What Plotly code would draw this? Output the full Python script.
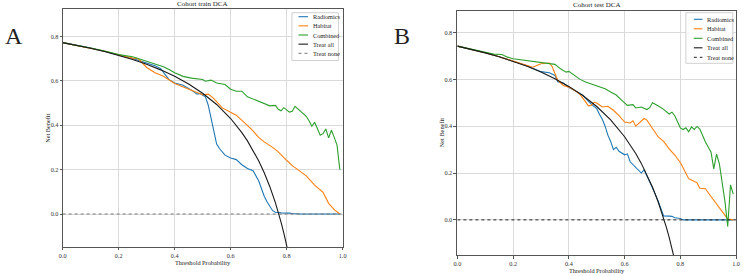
import plotly.graph_objects as go

# ---------------- data ----------------
series_names = ["Radiomics", "Habitat", "Combined", "Treat all", "Treat none"]

# Cohort train
train_rad_t = [0, 0.05, 0.1, 0.15, 0.2, 0.25, 0.3, 0.33, 0.35, 0.37, 0.38, 0.4, 0.43, 0.46, 0.48, 0.49, 0.51, 0.52, 0.53, 0.54, 0.55, 0.56, 0.58, 0.6, 0.62, 0.64, 0.66, 0.68, 0.69, 0.7, 0.71, 0.72, 0.73, 0.74, 0.75, 0.76, 0.78, 0.81, 0.82, 0.85, 0.99]
train_rad_nb = [0.772, 0.760, 0.747, 0.732, 0.716, 0.700, 0.680, 0.668, 0.655, 0.625, 0.605, 0.590, 0.580, 0.558, 0.540, 0.543, 0.528, 0.490, 0.430, 0.360, 0.315, 0.295, 0.265, 0.252, 0.245, 0.222, 0.205, 0.195, 0.175, 0.150, 0.115, 0.080, 0.055, 0.035, 0.015, 0.008, 0.005, 0.004, 0.002, 0.0, 0.0]

train_hab_t = [0, 0.05, 0.1, 0.15, 0.2, 0.25, 0.27, 0.3, 0.33, 0.36, 0.4, 0.43, 0.46, 0.5, 0.52, 0.54, 0.57, 0.6, 0.62, 0.65, 0.68, 0.7, 0.72, 0.75, 0.77, 0.8, 0.82, 0.84, 0.87, 0.9, 0.93, 0.95, 0.97, 0.99]
train_hab_nb = [0.772, 0.760, 0.747, 0.733, 0.717, 0.702, 0.700, 0.660, 0.636, 0.620, 0.588, 0.573, 0.558, 0.537, 0.540, 0.520, 0.478, 0.459, 0.445, 0.410, 0.374, 0.345, 0.325, 0.300, 0.280, 0.242, 0.218, 0.200, 0.172, 0.130, 0.098, 0.048, 0.020, 0.0]

train_comb_t = [0, 0.05, 0.1, 0.15, 0.2, 0.25, 0.27, 0.3, 0.34, 0.36, 0.38, 0.4, 0.43, 0.46, 0.5, 0.51, 0.53, 0.55, 0.58, 0.6, 0.62, 0.64, 0.66, 0.68, 0.7, 0.72, 0.74, 0.76, 0.77, 0.78, 0.79, 0.81, 0.82, 0.83, 0.85, 0.87, 0.88, 0.89, 0.9, 0.92, 0.93, 0.94, 0.95, 0.96, 0.97, 0.98, 0.99]
train_comb_nb = [0.772, 0.761, 0.748, 0.734, 0.718, 0.708, 0.700, 0.686, 0.670, 0.663, 0.651, 0.636, 0.620, 0.612, 0.606, 0.598, 0.603, 0.590, 0.583, 0.562, 0.553, 0.553, 0.528, 0.518, 0.508, 0.496, 0.487, 0.489, 0.472, 0.465, 0.479, 0.459, 0.463, 0.485, 0.462, 0.440, 0.420, 0.395, 0.413, 0.355, 0.362, 0.383, 0.343, 0.377, 0.345, 0.310, 0.200]

train_all_t = [0, 0.05, 0.1, 0.15, 0.2, 0.25, 0.3, 0.35, 0.4, 0.45, 0.5, 0.55, 0.6, 0.62, 0.64, 0.66, 0.68, 0.7, 0.72, 0.74, 0.76, 0.77, 0.78, 0.79, 0.8, 0.805]
train_all_nb = [0.772, 0.760, 0.7467, 0.7318, 0.715, 0.696, 0.6743, 0.6492, 0.620, 0.5855, 0.544, 0.4933, 0.430, 0.400, 0.3667, 0.3294, 0.2875, 0.240, 0.1857, 0.1231, 0.050, 0.0087, -0.0364, -0.0857, -0.140, -0.1692]

# Cohort test
test_rad_t = [0, 0.05, 0.1, 0.15, 0.2, 0.25, 0.3, 0.33, 0.35, 0.36, 0.38, 0.4, 0.42, 0.45, 0.48, 0.5, 0.51, 0.52, 0.53, 0.54, 0.55, 0.56, 0.57, 0.58, 0.6, 0.61, 0.62, 0.63, 0.65, 0.66, 0.67, 0.68, 0.7, 0.71, 0.72, 0.73, 0.74, 0.76, 0.77, 0.78, 0.8, 0.81, 0.9, 0.99]
test_rad_nb = [0.742, 0.729, 0.714, 0.697, 0.679, 0.658, 0.633, 0.628, 0.617, 0.590, 0.584, 0.565, 0.553, 0.532, 0.494, 0.475, 0.450, 0.430, 0.400, 0.362, 0.335, 0.300, 0.310, 0.293, 0.278, 0.282, 0.248, 0.235, 0.210, 0.200, 0.214, 0.188, 0.142, 0.110, 0.082, 0.050, 0.017, 0.016, 0.015, 0.009, 0.006, 0.0, 0.0, 0.0]

test_hab_t = [0, 0.05, 0.1, 0.15, 0.2, 0.25, 0.27, 0.3, 0.33, 0.34, 0.35, 0.36, 0.38, 0.4, 0.42, 0.44, 0.46, 0.47, 0.48, 0.49, 0.5, 0.52, 0.54, 0.56, 0.58, 0.6, 0.62, 0.63, 0.64, 0.66, 0.67, 0.68, 0.7, 0.72, 0.74, 0.76, 0.78, 0.8, 0.82, 0.83, 0.84, 0.86, 0.87, 0.89, 0.91, 0.93, 0.95, 0.97, 0.99]
test_hab_nb = [0.742, 0.729, 0.714, 0.697, 0.679, 0.658, 0.652, 0.667, 0.670, 0.655, 0.624, 0.596, 0.574, 0.567, 0.553, 0.536, 0.504, 0.487, 0.489, 0.502, 0.499, 0.482, 0.485, 0.468, 0.445, 0.418, 0.414, 0.423, 0.400, 0.425, 0.433, 0.426, 0.388, 0.355, 0.335, 0.303, 0.277, 0.245, 0.199, 0.176, 0.170, 0.158, 0.135, 0.133, 0.100, 0.068, 0.032, 0.004, 0.0]

test_comb_t = [0, 0.05, 0.1, 0.13, 0.16, 0.18, 0.2, 0.25, 0.3, 0.33, 0.35, 0.37, 0.39, 0.4, 0.42, 0.44, 0.46, 0.48, 0.5, 0.52, 0.53, 0.55, 0.57, 0.59, 0.61, 0.63, 0.64, 0.66, 0.68, 0.69, 0.7, 0.72, 0.74, 0.76, 0.77, 0.78, 0.8, 0.81, 0.82, 0.83, 0.84, 0.85, 0.86, 0.87, 0.89, 0.91, 0.92, 0.93, 0.94, 0.96, 0.97, 0.98, 0.99]
test_comb_nb = [0.742, 0.729, 0.714, 0.708, 0.706, 0.695, 0.688, 0.681, 0.674, 0.669, 0.664, 0.645, 0.631, 0.634, 0.617, 0.600, 0.589, 0.580, 0.572, 0.563, 0.560, 0.546, 0.533, 0.510, 0.489, 0.492, 0.478, 0.482, 0.471, 0.479, 0.500, 0.487, 0.472, 0.452, 0.460, 0.445, 0.393, 0.386, 0.393, 0.376, 0.397, 0.386, 0.399, 0.388, 0.333, 0.290, 0.218, 0.281, 0.240, 0.080, -0.028, 0.149, 0.110]

test_all_t = [0, 0.05, 0.1, 0.15, 0.2, 0.25, 0.3, 0.35, 0.4, 0.45, 0.5, 0.55, 0.6, 0.62, 0.64, 0.66, 0.68, 0.7, 0.72, 0.73, 0.74, 0.75, 0.76, 0.77, 0.775, 0.78]
test_all_nb = [0.742, 0.7284, 0.7133, 0.6965, 0.6775, 0.656, 0.6314, 0.6031, 0.570, 0.5309, 0.484, 0.4267, 0.355, 0.3211, 0.2833, 0.2412, 0.1938, 0.140, 0.0786, 0.0444, 0.0077, -0.032, -0.075, -0.1217, -0.1467, -0.1727]

none_t = [0, 1]
none_nb = [0, 0]

x_ticks = [0, 0.2, 0.4, 0.6, 0.8, 1.0]
x_ticktext = ["0.0", "0.2", "0.4", "0.6", "0.8", "1.0"]
y_ticks = [0, 0.2, 0.4, 0.6, 0.8]
y_ticktext = ["0.0", "0.2", "0.4", "0.6", "0.8"]

# ---------------- style ----------------
W, H = 746, 276
FONT = "Liberation Serif"
C_RAD, C_HAB, C_COMB, C_ALL = "#1f77b4", "#ff7f0e", "#2ca02c", "#1a1a1a"


def px(x):
    return x / W


def py(y):
    return 1 - y / H


fig = go.Figure()

panels = [
    dict(xa="x", ya="y", data=[(train_rad_t, train_rad_nb), (train_hab_t, train_hab_nb),
                               (train_comb_t, train_comb_nb), (train_all_t, train_all_nb)],
         none_color="#777777"),
    dict(xa="x2", ya="y2", data=[(test_rad_t, test_rad_nb), (test_hab_t, test_hab_nb),
                                 (test_comb_t, test_comb_nb), (test_all_t, test_all_nb)],
         none_color="#222222"),
]
cols = [C_RAD, C_HAB, C_COMB, C_ALL]
for p in panels:
    for i, (t, nb) in enumerate(p["data"]):
        fig.add_trace(go.Scatter(x=t, y=nb, mode="lines", name=series_names[i],
                                 line=dict(color=cols[i], width=1.1),
                                 xaxis=p["xa"], yaxis=p["ya"], showlegend=False,
                                 hoverinfo="skip"))
    fig.add_trace(go.Scatter(x=none_t, y=none_nb, mode="lines", name=series_names[4],
                             line=dict(color=p["none_color"], width=1, dash="dot"),
                             xaxis=p["xa"], yaxis=p["ya"], showlegend=False,
                             hoverinfo="skip"))

axis_common = dict(showline=True, mirror=True, linecolor="#555555", linewidth=1,
                   showgrid=True, gridcolor="#dadada", gridwidth=1, zeroline=False,
                   ticks="outside", tickcolor="#555555", tickwidth=1,
                   tickfont=dict(family=FONT, size=6.2, color="#333333"))

fig.update_layout(
    width=W, height=H, margin=dict(l=0, r=0, t=0, b=0),
    paper_bgcolor="white", plot_bgcolor="white", showlegend=False,
    xaxis=dict(domain=[px(59.3), px(342.3)], range=[0, 1], anchor="y",
               tickvals=x_ticks, ticktext=x_ticktext, ticklen=2, **axis_common),
    yaxis=dict(domain=[py(247.3), py(9.3)], range=[-0.15, 0.922], anchor="x",
               tickvals=y_ticks, ticktext=y_ticktext, ticklen=2, **axis_common),
    xaxis2=dict(domain=[px(458.3), px(740)], range=[0, 1], anchor="y2",
                tickvals=x_ticks, ticktext=x_ticktext, ticklen=3, **axis_common),
    yaxis2=dict(domain=[py(255), py(11)], range=[-0.15, 0.892], anchor="x2",
                tickvals=y_ticks, ticktext=y_ticktext, ticklen=3, **axis_common),
)

ann = []


def text(x, y, s, size=6.3, angle=0, xanchor="center"):
    ann.append(dict(x=px(x), y=py(y), xref="paper", yref="paper", text=s, showarrow=False,
                    xanchor=xanchor, yanchor="middle", textangle=angle,
                    font=dict(family=FONT, size=size, color="#222222")))


# titles, axis labels, panel letters
text(200.8, 4.5, "Cohort train DCA", size=7)
text(599.2, 5, "Cohort test DCA", size=7)
text(200.8, 262, "Threshold Probability")
text(599.2, 270.5, "Threshold Probability")
text(43.3, 128, "Net Benefit", angle=-90)
text(443, 133, "Net Benefit", angle=-90)
text(10, 36, "A", size=24)
text(402, 36, "B", size=24)

# legends (drawn as boxes with sample lines)
shapes = []
legend_styles = [
    (C_RAD, "solid"), (C_HAB, "solid"), (C_COMB, "solid"), (C_ALL, "solid")
]


def legend(box, y0, dy, lx0, lx1, tx, none_color):
    shapes.append(dict(type="rect", xref="paper", yref="paper",
                       x0=px(box[0]), x1=px(box[1]), y0=py(box[3]), y1=py(box[2]),
                       fillcolor="rgba(255,255,255,0.85)", line=dict(color="#d0d0d0", width=1)))
    styles = legend_styles + [(none_color, "dot")]
    for i, name in enumerate(series_names):
        yy = y0 + i * dy
        c, d = styles[i]
        shapes.append(dict(type="line", xref="paper", yref="paper",
                           x0=px(lx0), x1=px(lx1), y0=py(yy), y1=py(yy),
                           line=dict(color=c, width=1.1 if d == "solid" else 1, dash=d)))
        text(tx, yy, name, xanchor="left")


legend((291, 338, 12.7, 60.5), 16.7, 9.15, 297.7, 307.3, 310.3, "#777777")
legend((689.3, 736.7, 12.7, 63.3), 19.3, 9.5, 697.3, 706, 708.7, "#222222")

fig.update_layout(annotations=ann, shapes=shapes)
fig.write_html("out.html")
